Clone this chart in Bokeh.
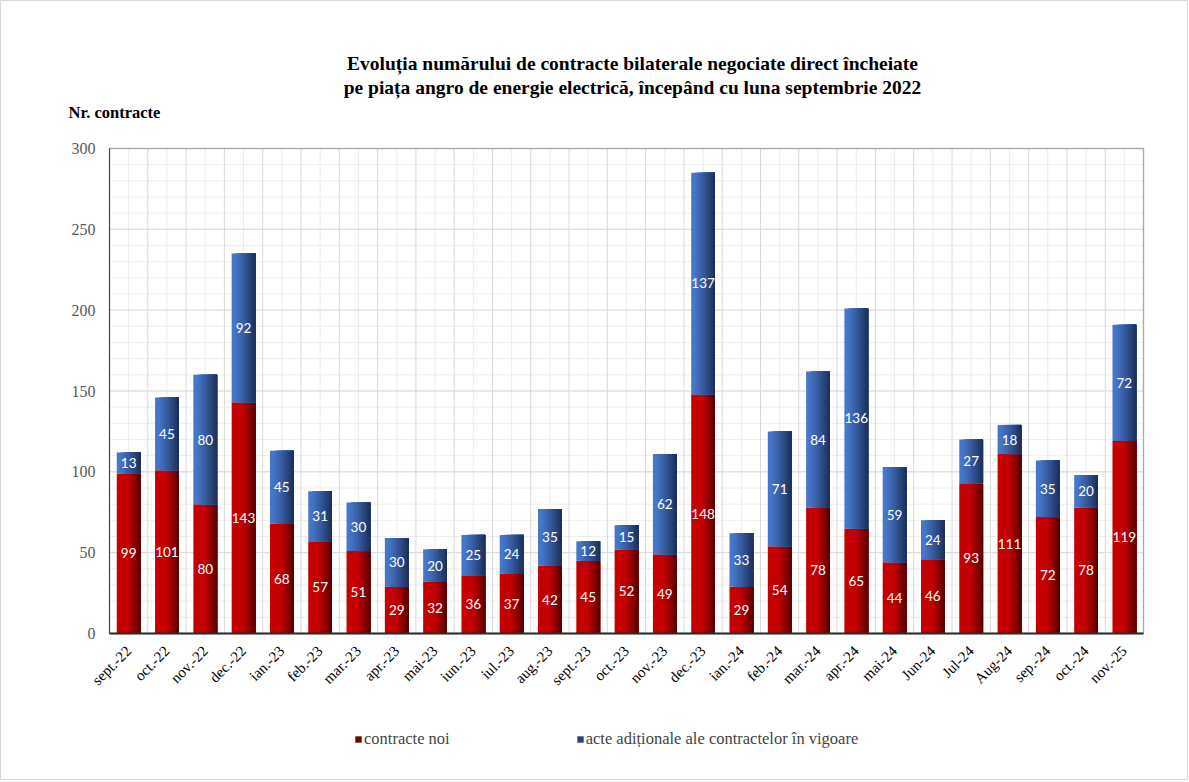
import math
from bokeh.plotting import figure
from bokeh.models import (ColumnDataSource, FixedTicker, Label, Legend, LegendItem, Range1d,
                          LinearAxis, BoxAnnotation)
from bokeh.transform import dodge
from bokeh.embed import file_html
from bokeh.resources import INLINE
from bokeh.core.properties import value

months = ["sept.-22", "oct.-22", "nov.-22", "dec.-22", "ian.-23", "feb.-23", "mar.-23",
          "apr.-23", "mai-23", "iun.-23", "iul.-23", "aug.-23", "sept.-23", "oct.-23",
          "nov.-23", "dec.-23", "ian.-24", "feb.-24", "mar.-24", "apr.-24", "mai-24",
          "Jun-24", "Jul-24", "Aug-24", "sep.-24", "oct.-24", "nov.-25"]
new_contracts = [99, 101, 80, 143, 68, 57, 51, 29, 32, 36, 37, 42, 45, 52, 49, 148,
                 29, 54, 78, 65, 44, 46, 93, 111, 72, 78, 119]
addenda = [13, 45, 80, 92, 45, 31, 30, 30, 20, 25, 24, 35, 12, 15, 62, 137,
           33, 71, 84, 136, 59, 24, 27, 18, 35, 20, 72]
y_ticks = [0, 50, 100, 150, 200, 250, 300]
y_minor = list(range(0, 301, 10))

title_line1 = "Evoluția numărului de contracte bilaterale negociate direct încheiate"
title_line2 = "pe piața angro de energie electrică, începând cu luna septembrie 2022"
y_title = "Nr. contracte"
legend_labels = ["contracte noi", "acte adiționale ale contractelor în vigoare"]

idx = list(range(len(months)))
src = ColumnDataSource(dict(
    x=idx,
    red=new_contracts,
    zero=[0] * len(idx),
    total=[r + b for r, b in zip(new_contracts, addenda)],
    red_mid=[r / 2 for r in new_contracts],
    blue_mid=[r + b / 2 for r, b in zip(new_contracts, addenda)],
    red_lbl=[str(r) for r in new_contracts],
    blue_lbl=[str(b) for b in addenda],
))

SERIF = "Liberation Serif"
X_LO, X_HI = -0.5, len(idx) - 0.5
Y_LO, Y_HI = y_ticks[0], y_ticks[-1]

# page layout in pixels (the whole canvas is one frame; the plot box sits inside it)
CANVAS_W, CANVAS_H = 1188, 780
BOX_L, BOX_R, BOX_T, BOX_B = 109, 1143, 148, 633
ppx = (BOX_R - BOX_L) / (X_HI - X_LO)
ppy = (BOX_B - BOX_T) / (Y_HI - Y_LO)
x_range = Range1d(X_LO - BOX_L / ppx, X_HI + (CANVAS_W - BOX_R) / ppx)
y_range = Range1d(Y_LO - (CANVAS_H - BOX_B) / ppy, Y_HI + BOX_T / ppy)

p = figure(frame_width=CANVAS_W, frame_height=CANVAS_H, x_range=x_range, y_range=y_range,
           output_backend="svg", toolbar_location=None, x_axis_location=None,
           y_axis_location=None, min_border=0)
p.title.text = ""
p.xgrid.visible = False
p.ygrid.visible = False
p.outline_line_color = "#d9d9d9"
p.outline_line_width = 1
p.background_fill_color = "white"

# grid lines inside the plot box
centers = idx
bounds_x = [i - 0.5 for i in range(len(idx) + 1)]
p.segment(x0=centers, x1=centers, y0=[Y_LO] * len(centers), y1=[Y_HI] * len(centers),
          line_color="#ececec", line_width=1)
p.segment(x0=[X_LO] * len(y_minor), x1=[X_HI] * len(y_minor), y0=y_minor, y1=y_minor,
          line_color="#eeeeee", line_width=1)
p.segment(x0=bounds_x, x1=bounds_x, y0=[Y_LO] * len(bounds_x), y1=[Y_HI] * len(bounds_x),
          line_color="#d9d9d9", line_width=1)
p.segment(x0=[X_LO] * len(y_ticks), x1=[X_HI] * len(y_ticks), y0=y_ticks, y1=y_ticks,
          line_color="#d9d9d9", line_width=1)


def mix(c1, c2, t):
    return "#%02x%02x%02x" % tuple(round(a + (b - a) * t) for a, b in zip(c1, c2))


W = 0.62
STEPS = 14


def shaded_bar(bottom, top, light, dark, start):
    base = p.vbar(x="x", bottom=bottom, top=top, width=W, source=src,
                  fill_color=mix(light, light, 0), line_color=None)
    rs = [base]
    for k in range(1, STEPS + 1):
        s = start + (1 - start) * (k - 1) / STEPS
        left = -W / 2 + W * s
        right = W / 2
        off = (left + right) / 2
        r = p.vbar(x=dodge("x", off), bottom=bottom, top=top, width=right - left,
                   source=src, fill_color=mix(light, dark, (k / STEPS) ** 1.2),
                   line_color=None)
        rs.append(r)
    return rs


red_rs = shaded_bar("zero", "red", (196, 0, 0), (88, 0, 0), 0.45)
blue_rs = shaded_bar("red", "total", (70, 118, 200), (28, 48, 92), 0.15)

p.text(x="x", y="red_mid", text="red_lbl", source=src, text_color="white",
       text_align="center", text_baseline="middle", text_font=value("Lato"),
       text_font_size="13.5px")
p.text(x="x", y="blue_mid", text="blue_lbl", source=src, text_color="white",
       text_align="center", text_baseline="middle", text_font=value("Lato"),
       text_font_size="13.5px")

# plot box border
p.add_layout(BoxAnnotation(left=X_LO, right=X_HI, bottom=Y_LO, top=Y_HI,
                           fill_alpha=0, line_color="#404040", line_width=1.5))

# axes fixed at the plot box edges
xaxis = LinearAxis(fixed_location=Y_LO, bounds=(X_LO, X_HI),
                   ticker=FixedTicker(ticks=idx, minor_ticks=[]))
xaxis.major_label_overrides = {i: m for i, m in zip(idx, months)}
xaxis.major_label_orientation = math.pi / 4
xaxis.major_label_text_font = SERIF
xaxis.major_label_text_font_size = "15px"
xaxis.major_label_text_color = "black"
xaxis.major_tick_line_color = None
xaxis.minor_tick_line_color = None
xaxis.axis_line_color = "#262626"
xaxis.axis_line_width = 2
xaxis.major_label_standoff = 9
p.add_layout(xaxis, "below")

yaxis = LinearAxis(fixed_location=X_LO, bounds=(Y_LO, Y_HI),
                   ticker=FixedTicker(ticks=y_ticks, minor_ticks=[]))
yaxis.major_label_text_font = SERIF
yaxis.major_label_text_font_size = "16px"
yaxis.major_label_text_color = "#595959"
yaxis.major_tick_line_color = None
yaxis.minor_tick_line_color = None
yaxis.axis_line_color = "#404040"
yaxis.major_label_standoff = 8
p.add_layout(yaxis, "left")

# titles, anchored to the top edge of the plot box
x_mid = (X_LO + X_HI) / 2
p.add_layout(Label(x=x_mid, y=Y_HI, x_offset=6, y_offset=85, text=title_line1,
                   text_align="center", text_baseline="middle", text_font=SERIF,
                   text_font_size="19.5px", text_font_style="bold", text_color="black"))
p.add_layout(Label(x=x_mid, y=Y_HI, x_offset=6, y_offset=61, text=title_line2,
                   text_align="center", text_baseline="middle", text_font=SERIF,
                   text_font_size="19.5px", text_font_style="bold", text_color="black"))
p.add_layout(Label(x=X_LO, y=Y_HI, x_offset=-41, y_offset=36, text=y_title,
                   text_align="left", text_baseline="middle", text_font=SERIF,
                   text_font_size="16.5px", text_font_style="bold", text_color="black"))

legend = Legend(items=[LegendItem(label=legend_labels[0], renderers=[red_rs[-4]]),
                       LegendItem(label=legend_labels[1], renderers=[blue_rs[-4]])],
                orientation="horizontal", location=(354, CANVAS_H - 749), spacing=126,
                glyph_width=8, glyph_height=8, label_standoff=2,
                label_text_font=SERIF, label_text_font_size="16.5px",
                border_line_color=None, background_fill_alpha=0, padding=0,
                margin=0)
p.add_layout(legend)

open("out.html", "w").write(file_html(p, INLINE))
